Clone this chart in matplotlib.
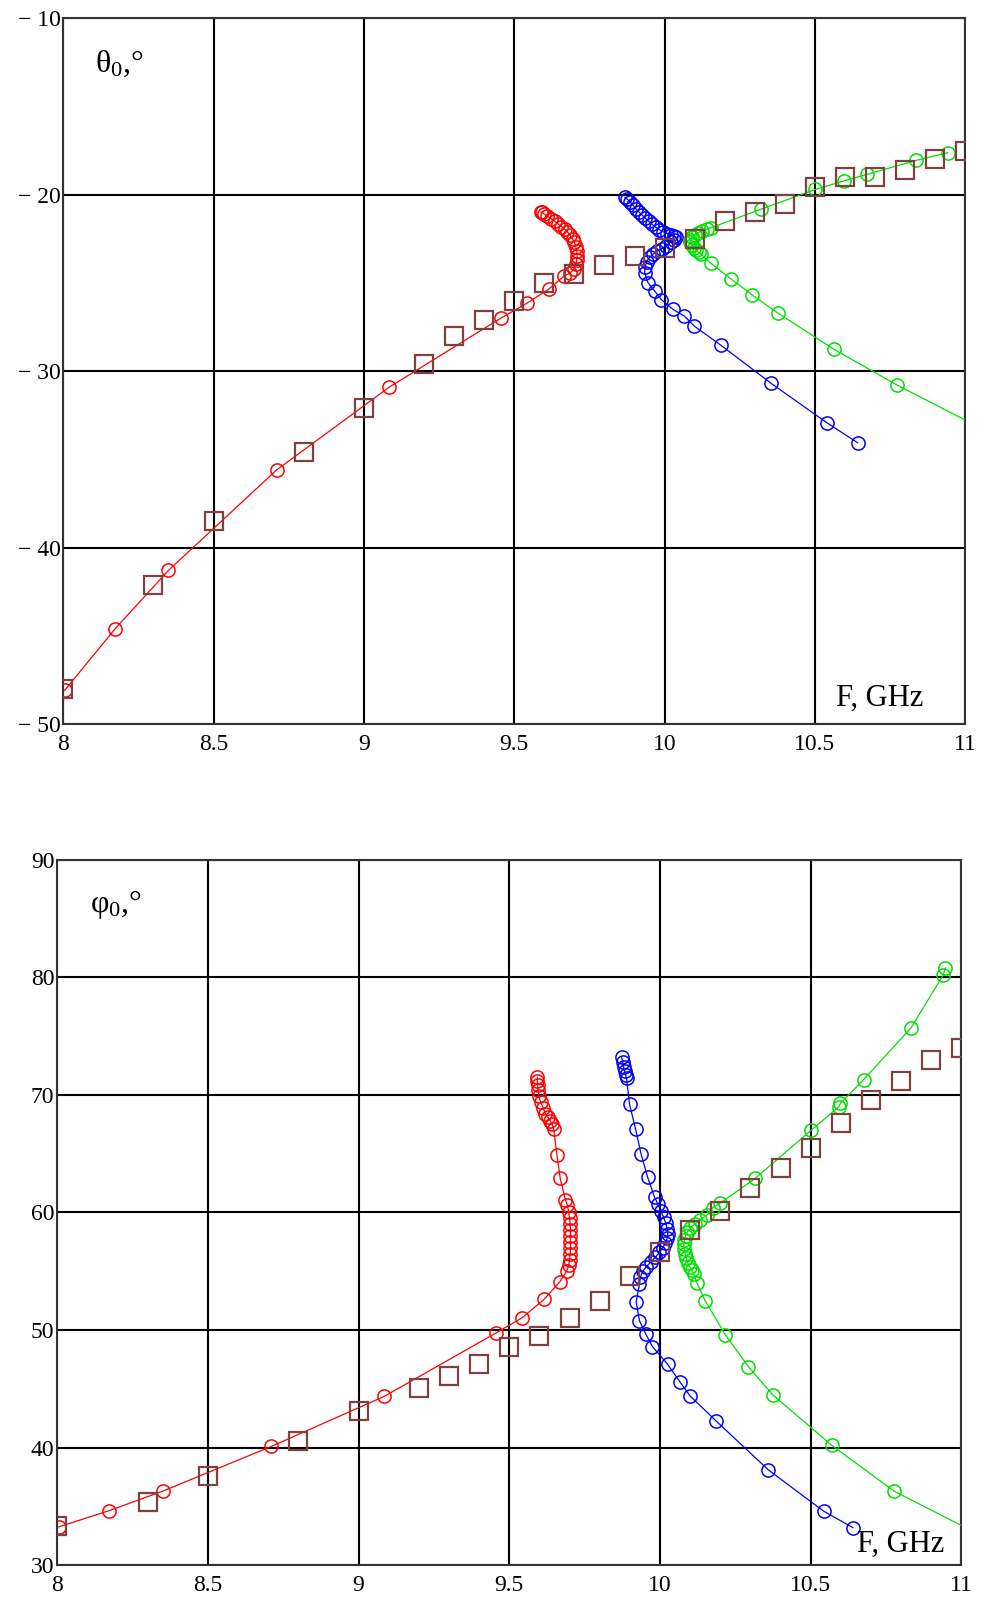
import matplotlib
matplotlib.use("Agg")
import matplotlib.pyplot as plt

plt.rcParams['font.family'] = ['Liberation Serif', 'DejaVu Serif']
plt.rcParams['mathtext.fontset'] = 'custom'
plt.rcParams['mathtext.rm'] = 'Liberation Serif'
plt.rcParams['mathtext.it'] = 'Liberation Serif'

# ---- top chart: theta0 vs F ----
sq_f = [8.0, 8.3, 8.5, 8.8, 9.0, 9.2, 9.3, 9.4, 9.5, 9.6, 9.7, 9.8, 9.9,
        10.0, 10.1, 10.2, 10.3, 10.4, 10.5, 10.6, 10.7, 10.8, 10.9, 11.0]
sq_theta = [-48.0, -42.1, -38.5, -34.6, -32.1, -29.6, -28.0, -27.1, -26.0, -25.0,
            -24.5, -24.0, -23.5, -23.0, -22.5, -21.5, -21.0, -20.5, -19.55, -19.0,
            -19.0, -18.6, -18.0, -17.5]

red_f_top = [8.005, 8.173, 8.35, 8.71, 9.085, 9.455, 9.542, 9.615, 9.667, 9.685,
             9.700, 9.705, 9.708, 9.709, 9.708, 9.705, 9.700, 9.694, 9.686, 9.677,
             9.668, 9.657, 9.646, 9.634, 9.622, 9.610, 9.600, 9.592, 9.588]
red_theta = [-48.1, -44.6, -41.3, -35.6, -30.9, -27.0, -26.15, -25.35, -24.6, -24.45,
             -24.2, -23.95, -23.7, -23.45, -23.2, -22.95, -22.7, -22.5, -22.3, -22.1,
             -21.95, -21.8, -21.65, -21.5, -21.35, -21.2, -21.1, -21.0, -20.98]

blue_f_top = [9.868, 9.876, 9.885, 9.895, 9.905, 9.915, 9.925, 9.936, 9.947, 9.958,
              9.970, 9.982, 9.995, 10.008, 10.020, 10.032, 10.038, 10.030, 10.020,
              10.005, 9.990, 9.975, 9.962, 9.950, 9.940, 9.935, 9.934, 9.945, 9.967,
              9.989, 10.028, 10.066, 10.099, 10.187, 10.355, 10.540, 10.642]
blue_theta = [-20.15, -20.25, -20.4, -20.6, -20.8, -20.98, -21.15, -21.33, -21.5, -21.67,
              -21.83, -21.98, -22.1, -22.2, -22.28, -22.34, -22.4, -22.55, -22.7,
              -22.88, -23.05, -23.2, -23.36, -23.55, -23.8, -24.1, -24.42, -24.99, -25.46,
              -25.94, -26.5, -26.88, -27.45, -28.53, -30.7, -32.93, -34.06]

green_f_top = [10.941, 10.837, 10.672, 10.595, 10.501, 10.319, 10.154, 10.14, 10.125,
               10.11, 10.10, 10.09, 10.085, 10.085, 10.09, 10.097, 10.105, 10.113, 10.121,
               10.154, 10.220, 10.292, 10.377, 10.564, 10.773, 11.06]
green_theta = [-17.62, -18.05, -18.85, -19.22, -19.70, -20.83, -21.87, -21.95, -22.05,
               -22.15, -22.27, -22.4, -22.55, -22.7, -22.85, -23.0, -23.12, -23.25, -23.38,
               -23.89, -24.76, -25.69, -26.71, -28.77, -30.79, -33.3]

# ---- bottom chart: phi0 vs F ----
sq_phi = [33.3, 35.4, 37.6, 40.6, 43.1, 45.1, 46.1, 47.1, 48.6, 49.5, 51.0, 52.5,
          54.6, 56.6, 58.5, 60.1, 62.1, 63.8, 65.5, 67.6, 69.6, 71.2, 73.0, 74.0]

red_f_bot = [8.005, 8.173, 8.35, 8.71, 9.085, 9.455, 9.542, 9.615, 9.667, 9.69,
             9.697, 9.700, 9.702, 9.703, 9.703, 9.703, 9.703, 9.702, 9.700, 9.697,
             9.693, 9.686, 9.669, 9.658, 9.647, 9.642, 9.636, 9.628, 9.620, 9.612,
             9.604, 9.598, 9.595, 9.594, 9.593, 9.593]
red_phi = [33.26, 34.65, 36.3, 40.1, 44.36, 49.74, 51.04, 52.6, 54.08, 55.0,
           55.5, 56.0, 56.5, 57.0, 57.5, 58.0, 58.5, 59.0, 59.5, 60.0,
           60.6, 61.1, 62.9, 64.9, 67.1, 67.5, 67.8, 68.1, 68.4, 68.9,
           69.4, 69.9, 70.4, 70.8, 71.2, 71.5]

blue_f_bot = [9.873, 9.876, 9.879, 9.883, 9.886, 9.889, 9.899, 9.919, 9.937, 9.959,
              9.982, 9.993, 10.003, 10.012, 10.019, 10.024, 10.026, 10.024, 10.018,
              10.009, 9.998, 9.985, 9.970, 9.955, 9.943, 9.935, 9.932, 9.921, 9.932,
              9.952, 9.975, 10.025, 10.066, 10.10, 10.185, 10.36, 10.543, 10.64]
blue_phi = [73.2, 72.8, 72.4, 72.0, 71.7, 71.4, 69.2, 67.1, 65.0, 63.0,
            61.3, 60.7, 60.1, 59.6, 59.1, 58.6, 58.2, 57.8, 57.4,
            57.0, 56.6, 56.2, 55.8, 55.4, 55.0, 54.5, 53.9, 52.4, 50.8,
            49.7, 48.6, 47.1, 45.6, 44.4, 42.3, 38.1, 34.6, 33.2]

green_f_bot = [10.947, 10.94, 10.833, 10.676, 10.599, 10.594, 10.502, 10.316, 10.2,
               10.175, 10.157, 10.134, 10.115, 10.101, 10.09, 10.085, 10.081, 10.079,
               10.08, 10.083, 10.087, 10.092, 10.098, 10.105, 10.112, 10.123, 10.150,
               10.217, 10.293, 10.374, 10.57, 10.777, 11.06]
green_phi = [80.8, 80.2, 75.7, 71.3, 69.3, 69.0, 67.0, 62.9, 60.8,
             60.4, 59.8, 59.4, 59.0, 58.7, 58.3, 58.0, 57.7, 57.3,
             56.9, 56.5, 56.1, 55.7, 55.4, 55.1, 54.8, 54.0, 52.5,
             49.6, 46.9, 44.5, 40.2, 36.3, 32.6]

x_ticks = [8, 8.5, 9, 9.5, 10, 10.5, 11]
x_labels = ['8', '8.5', '9', '9.5', '10', '10.5', '11']
top_yticks = [-50, -40, -30, -20, -10]
top_ylabels = ['\u2212 50', '\u2212 40', '\u2212 30', '\u2212 20', '\u2212 10']
bot_yticks = [30, 40, 50, 60, 70, 80, 90]
bot_ylabels = ['30', '40', '50', '60', '70', '80', '90']

fig = plt.figure(figsize=(9.87, 15.98), dpi=100)
ax1 = fig.add_axes([0.064, 0.547, 0.914, 0.4415])
ax2 = fig.add_axes([0.058, 0.0205, 0.916, 0.4415])


def style(ax, yticks, ylabels, ylim):
    ax.set_xlim(8, 11)
    ax.set_ylim(*ylim)
    ax.set_xticks(x_ticks)
    ax.set_xticklabels(x_labels)
    ax.set_yticks(yticks)
    ax.set_yticklabels(ylabels)
    ax.tick_params(length=0, labelsize=17)
    ax.tick_params(axis='x', pad=7)
    ax.tick_params(axis='y', pad=2)
    ax.grid(True, color='black', lw=1.5)
    ax.set_axisbelow(True)
    for s in ax.spines.values():
        s.set_color('#333333')
        s.set_linewidth(1.5)


def curve(ax, f, v, col):
    ax.plot(f, v, '-o', color=col, lw=0.9, ms=9.5, mfc='none', mec=col, mew=1.1, zorder=3)


style(ax1, top_yticks, top_ylabels, (-50, -10))
curve(ax1, red_f_top, red_theta, '#ff0000')
curve(ax1, blue_f_top, blue_theta, '#0000ff')
curve(ax1, green_f_top, green_theta, '#00e000')
ax1.plot(sq_f, sq_theta, 's', ms=13.5, mfc='none', mec='#804040', mew=1.6, zorder=4)
ax1.text(0.035, 0.935, r'$\mathrm{\theta}_0$,°', transform=ax1.transAxes, fontsize=23,
         va='center', ha='left')
ax1.text(0.857, 0.036, 'F, GHz', transform=ax1.transAxes, fontsize=22,
         va='center', ha='left')

style(ax2, bot_yticks, bot_ylabels, (30, 90))
curve(ax2, red_f_bot, red_phi, '#ff0000')
curve(ax2, blue_f_bot, blue_phi, '#0000ff')
curve(ax2, green_f_bot, green_phi, '#00e000')
ax2.plot(sq_f, sq_phi, 's', ms=13.5, mfc='none', mec='#804040', mew=1.6, zorder=4)
ax2.text(0.036, 0.937, r'$\mathrm{\varphi}_0$,°', transform=ax2.transAxes, fontsize=23,
         va='center', ha='left')
ax2.text(0.885, 0.03, 'F, GHz', transform=ax2.transAxes, fontsize=22,
         va='center', ha='left')

fig.savefig('out.png', dpi=100)
